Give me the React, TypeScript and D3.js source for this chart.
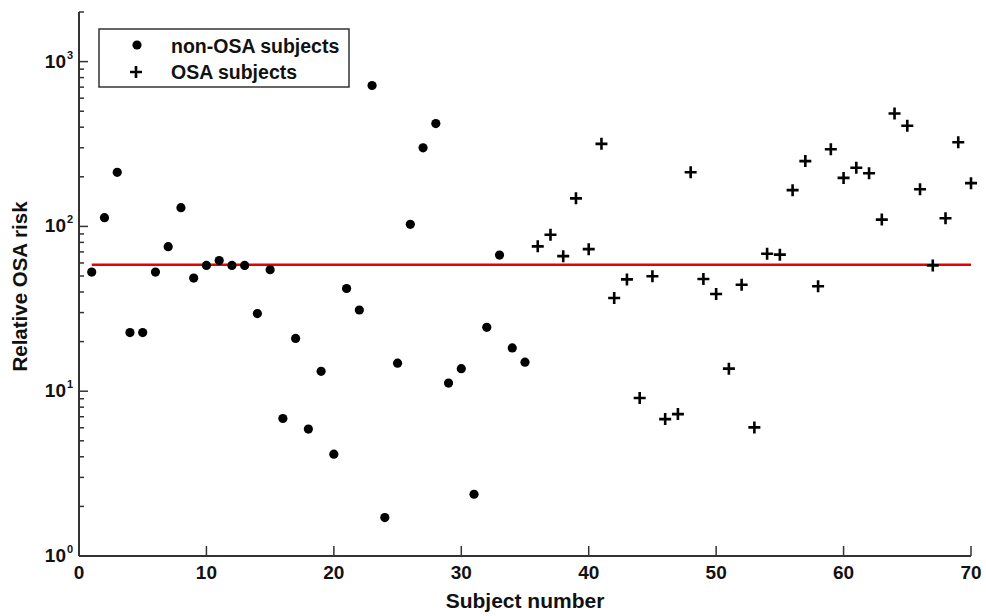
import React from 'react';
import * as d3 from 'd3';

// non-OSA subjects (filled dots)
const nonOsaIds = [1, 2, 3, 4, 5, 6, 7, 8, 9, 10, 11, 12, 13, 14, 15, 16, 17, 18, 19, 20, 21, 22, 23, 24, 25, 26, 27, 28, 29, 30, 31, 32, 33, 34, 35];
const nonOsaRisk = [52.8, 113, 213, 22.7, 22.7, 52.8, 75.3, 130, 48.6, 58, 62, 58, 58, 29.6, 54.6, 6.83, 20.9, 5.89, 13.2, 4.15, 42, 31.1, 716, 1.71, 14.8, 103, 300, 421, 11.2, 13.7, 2.37, 24.4, 67, 18.3, 15.0];

// OSA subjects (plus markers)
const osaIds = [36, 37, 38, 39, 40, 41, 42, 43, 44, 45, 46, 47, 48, 49, 50, 51, 52, 53, 54, 55, 56, 57, 58, 59, 60, 61, 62, 63, 64, 65, 66, 67, 68, 69, 70];
const osaRisk = [75.7, 89, 66, 148, 72.8, 317, 36.8, 47.7, 9.1, 49.8, 6.77, 7.26, 213, 48, 38.9, 13.7, 44.3, 6.03, 68.3, 67.4, 166, 249, 43.3, 294, 197, 227, 210, 110, 484, 408, 168, 58, 112, 324, 183];

const threshold = 58.6;
const thresholdRange = [1, 70];

const xTicks = [10, 20, 30, 40, 50, 60, 70];
const yMajor = [1, 10, 100, 1000];
const yExponents = ['0', '1', '2', '3'];
const legendLabels = ['non-OSA subjects', 'OSA subjects'];

const W = 986;
const H = 616;
const margin = { top: 12, right: 15, bottom: 60, left: 79 };
const FONT = '"Liberation Sans", Arial, sans-serif';
const AXIS = '#333';

const App: React.FC = () => {
  const x = d3.scaleLinear().domain([0, 70]).range([margin.left, W - margin.right]);
  const y = d3.scaleLog().domain([1, 2000]).range([H - margin.bottom, margin.top]);

  const x0 = margin.left;
  const y0 = H - margin.bottom;

  // minor ticks 2..9 per decade, up to the top of the domain
  const minor: number[] = [];
  yMajor.forEach(d => {
    for (let k = 2; k <= 9; k++) {
      const v = d * k;
      if (v <= 2000) minor.push(v);
    }
  });

  const plusPath = (cx: number, cy: number) => `M${cx - 6},${cy}H${cx + 6}M${cx},${cy - 6}V${cy + 6}`;

  return (
    <svg width={W} height={H} style={{ position: 'absolute', left: 0, top: 0, background: '#fff' }}
      fontFamily={FONT} fontWeight="bold">
      <rect width={W} height={H} fill="#fff" />

      {/* axes */}
      <line x1={x0} x2={x0} y1={margin.top} y2={y0} stroke={AXIS} strokeWidth={2} />
      <line x1={x0} x2={W - margin.right} y1={y0} y2={y0} stroke={AXIS} strokeWidth={2} />

      {xTicks.map(t => (
        <line key={`xt${t}`} x1={x(t)} x2={x(t)} y1={y0} y2={y0 - 10} stroke={AXIS} strokeWidth={1.5} />
      ))}
      {[0, ...xTicks].map(t => (
        <text key={`xl${t}`} x={x(t)} y={y0 + 23} textAnchor="middle" fontSize={19} fill="#111">{t}</text>
      ))}

      {yMajor.map(t => (
        <line key={`ym${t}`} x1={x0} x2={x0 + 9} y1={y(t)} y2={y(t)} stroke={AXIS} strokeWidth={1.5} />
      ))}
      {minor.map(t => (
        <line key={`yn${t}`} x1={x0} x2={x0 + 5} y1={y(t)} y2={y(t)} stroke={AXIS} strokeWidth={1.5} />
      ))}
      {yMajor.map((t, i) => (
        <text key={`yl${t}`} x={x0 - 13} y={y(t) + 6} textAnchor="end" fontSize={19} fill="#111">
          10
          <tspan x={x0 - 12} dy={-9} fontSize={11} textAnchor="start">{yExponents[i]}</tspan>
        </text>
      ))}

      {/* axis titles */}
      <text x={(x(0) + x(70)) / 2} y={608} textAnchor="middle" fontSize={21} fill="#111">Subject number</text>
      <text transform="translate(27,286.5) rotate(-90)" textAnchor="middle" fontSize={20.5} fill="#111">
        Relative OSA risk
      </text>

      {/* threshold */}
      <line x1={x(thresholdRange[0])} x2={x(thresholdRange[1])} y1={y(threshold)} y2={y(threshold)}
        stroke="#e60000" strokeWidth={2.5} />

      {/* points */}
      {nonOsaIds.map((id, i) => (
        <circle key={`n${id}`} cx={x(id)} cy={y(nonOsaRisk[i])} r={4.6} fill="#000" />
      ))}
      {osaIds.map((id, i) => (
        <path key={`o${id}`} d={plusPath(x(id), y(osaRisk[i]))} stroke="#000" strokeWidth={2.6} fill="none" />
      ))}

      {/* legend */}
      <rect x={99} y={29} width={250} height={58} fill="#fff" stroke={AXIS} strokeWidth={1.5} />
      <circle cx={137} cy={45} r={4.6} fill="#000" />
      <text x={171} y={53} fontSize={19.5} fill="#111">{legendLabels[0]}</text>
      <path d={plusPath(136, 72)} stroke="#000" strokeWidth={2.6} fill="none" />
      <text x={171} y={79} fontSize={19.5} fill="#111">{legendLabels[1]}</text>
    </svg>
  );
};

export default App;
